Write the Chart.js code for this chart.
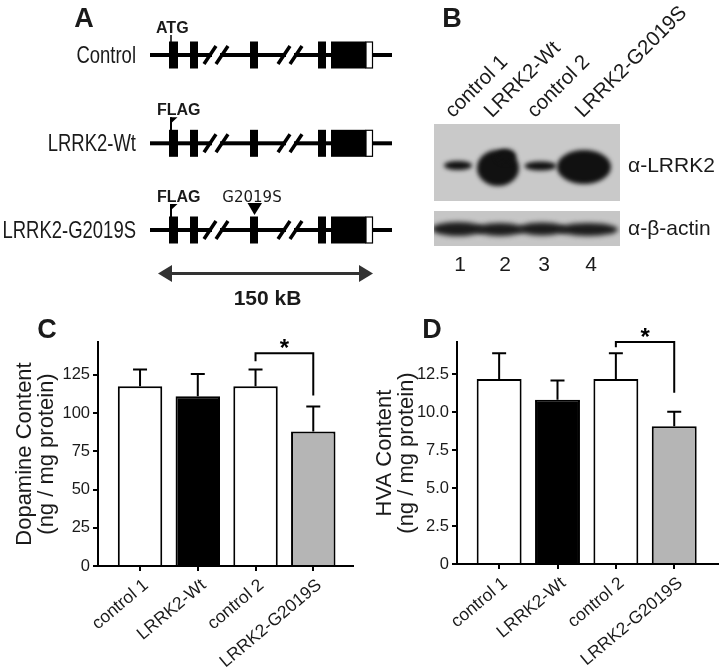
<!DOCTYPE html>
<html>
<head>
<meta charset="utf-8">
<script src="https://cdn.jsdelivr.net/npm/chart.js@4"></script>
<style>
  body { margin: 0; background: #fff; }
  #wrap { position: relative; width: 720px; height: 669px; }
  canvas { position: absolute; }
  #art { left: 0; top: 0; }
  #chartC { left: 0; top: 310px; }
  #chartD { left: 360px; top: 310px; }
</style>
</head>
<body>
<div id="wrap">
  <canvas id="art" width="720" height="669"></canvas>
  <canvas id="chartC" width="360" height="359"></canvas>
  <canvas id="chartD" width="360" height="359"></canvas>
</div>
<script>
// Data
const groups = ['control 1', 'LRRK2-Wt', 'control 2', 'LRRK2-G2019S'];
const dopamine = [117.5, 111, 117.5, 88];
const dopamineErr = [11, 14.5, 11, 16.3];
const hva = [12.2, 10.83, 12.2, 9.08];
const hvaErr = [1.7, 1.27, 1.7, 0.96];
const dopamineTicks = [0, 25, 50, 75, 100, 125];
const hvaTicks = [0, 2.5, 5, 7.5, 10, 12.5];
const barColors = ['#ffffff', '#000000', '#ffffff', '#b5b5b5'];
const geneRows = ['Control', 'LRRK2-Wt', 'LRRK2-G2019S'];
const blotLanes = ['control 1', 'LRRK2-Wt', 'control 2', 'LRRK2-G2019S'];

const FONT = 'Liberation Sans, Arial, Helvetica, sans-serif';
const INK = '#1a1a1a';


// Panels A and B (schematic + blot), plain canvas
const art = document.getElementById('art').getContext('2d');
art.fillStyle = INK;
art.textBaseline = 'alphabetic';

function label(str, x, y, size, weight, align) {
  art.font = (weight || 'normal') + ' ' + size + 'px ' + FONT;
  art.textAlign = align || 'left';
  art.fillText(str, x, y);
}

// panel letters
label('A', 84, 27, 27, 'bold', 'center');
label('B', 452, 27, 27, 'bold', 'center');
label('C', 47, 338, 27, 'bold', 'center');
label('D', 432, 338, 27, 'bold', 'center');

// gene schematic
const rowY = [55, 143.3, 230];
const exons = [[169, 9], [190, 8], [250, 8], [318, 8], [331, 35]];
geneRows.forEach((name, r) => {
  const y = rowY[r];
  art.save();
  art.translate(136, y + 8);
  art.scale(0.77, 1);
  label(name, 0, 0, 24, 'normal', 'right');
  art.restore();

  art.fillStyle = '#000';
  art.fillRect(150, y - 2, 242, 4);
  exons.forEach(([x, w]) => art.fillRect(x, y - 13.5, w, 27));
  art.fillStyle = '#fff';
  art.fillRect(366, y - 13.5, 7, 27);
  art.strokeStyle = '#000';
  art.lineWidth = 1.2;
  art.strokeRect(366, y - 13, 6.5, 26);

  // breaks
  [204, 278].forEach(x => {
    art.fillStyle = '#fff';
    art.fillRect(x + 8, y - 3, 8, 6);
    art.strokeStyle = '#000';
    art.lineWidth = 3.5;
    art.beginPath();
    art.moveTo(x, y + 9); art.lineTo(x + 12, y - 9);
    art.moveTo(x + 12, y + 9); art.lineTo(x + 24, y - 9);
    art.stroke();
  });
  art.fillStyle = INK;
});

// ATG
label('ATG', 156, 33, 16, 'bold');
art.strokeStyle = '#000'; art.lineWidth = 1.5;
art.beginPath(); art.moveTo(171, 35); art.lineTo(171, 42); art.stroke();

// FLAG tags
[1, 2].forEach(r => {
  const y = rowY[r];
  label('FLAG', 157, y - 28, 16, 'bold');
  art.fillStyle = '#000';
  art.beginPath();
  art.moveTo(170, y - 26); art.lineTo(177.5, y - 26); art.lineTo(170, y - 19);
  art.closePath(); art.fill();
  art.fillRect(170, y - 26, 2, 13);
  art.fillStyle = INK;
});

// G2019S mutation
art.font = '15px DejaVu Sans, sans-serif';
art.textAlign = 'center';
art.fillText('G2019S', 252, 202);
art.fillStyle = '#000';
art.beginPath();
art.moveTo(247.5, 203); art.lineTo(262, 203); art.lineTo(254.5, 215);
art.closePath(); art.fill();

// 150 kB arrow
art.fillStyle = '#333'; art.strokeStyle = '#333'; art.lineWidth = 3;
art.beginPath(); art.moveTo(168, 273.5); art.lineTo(363, 273.5); art.stroke();
art.beginPath();
art.moveTo(158, 273.5); art.lineTo(172, 265); art.lineTo(172, 282); art.closePath(); art.fill();
art.beginPath();
art.moveTo(373, 273.5); art.lineTo(359, 265); art.lineTo(359, 282); art.closePath(); art.fill();
art.fillStyle = INK;
label('150 kB', 267.5, 305, 21, 'bold', 'center');

// western blot
function blob(x, y, rx, ry) {
  art.beginPath();
  art.ellipse(x, y, rx, ry, 0, 0, Math.PI * 2);
  art.fill();
}
art.fillStyle = '#c9c9c9';
art.fillRect(434, 124, 186, 77);
art.fillStyle = '#c6c6c6';
art.fillRect(434, 211, 186, 35);

art.save();
art.beginPath(); art.rect(434, 124, 186, 77); art.clip();
art.filter = 'blur(2px)';
art.fillStyle = '#111';
blob(458, 165.5, 14, 4.5);
blob(540.5, 166, 16, 4.5);
blob(498, 168, 21, 18);
blob(506, 156, 10, 7);
blob(584, 167, 27, 17);
art.restore();

art.save();
art.beginPath(); art.rect(434, 211, 186, 35); art.clip();
art.filter = 'blur(2.5px)';
art.fillStyle = '#1c1c1c';
blob(458, 229, 26, 7);
blob(500, 229.5, 24, 6.5);
blob(542, 229, 24, 6.5);
blob(588, 229.5, 30, 6.5);
art.restore();

art.fillStyle = INK;
art.textBaseline = 'middle';
label('\u03b1-LRRK2', 628, 166, 21);
label('\u03b1-\u03b2-actin', 628, 229, 21);
const laneX = [460, 505, 544, 591];
laneX.forEach((x, i) => label(String(i + 1), x, 265, 21, 'normal', 'center'));
art.textBaseline = 'alphabetic';

const laneStart = [453, 492, 535, 583];
blotLanes.forEach((name, i) => {
  art.save();
  art.translate(laneStart[i], 118.5);
  art.rotate(-45 * Math.PI / 180);
  label(name, 0, 0, 20.5);
  art.restore();
});


// Bar charts C and D
function extrasPlugin(values, errors, bracket) {
  return {
    id: 'extras',
    afterDatasetsDraw(chart) {
      const { ctx, scales: { x, y } } = chart;
      ctx.save();
      ctx.strokeStyle = '#000';
      ctx.lineWidth = 2;
      // error bars (upper only)
      values.forEach((v, i) => {
        const px = x.getPixelForValue(i + 1);
        const top = y.getPixelForValue(v + errors[i]);
        ctx.beginPath();
        ctx.moveTo(px, y.getPixelForValue(v));
        ctx.lineTo(px, top);
        ctx.moveTo(px - 7, top);
        ctx.lineTo(px + 7, top);
        ctx.stroke();
      });
      // significance bracket
      const x1 = x.getPixelForValue(bracket.from);
      const x2 = x.getPixelForValue(bracket.to);
      const yb = y.getPixelForValue(bracket.y);
      ctx.beginPath();
      ctx.moveTo(x1, y.getPixelForValue(bracket.leftEnd));
      ctx.lineTo(x1, yb);
      ctx.lineTo(x2, yb);
      ctx.lineTo(x2, y.getPixelForValue(bracket.rightEnd));
      ctx.stroke();
      ctx.fillStyle = '#000';
      ctx.font = 'bold 24px ' + FONT;
      ctx.textAlign = 'center';
      ctx.textBaseline = 'alphabetic';
      ctx.fillText('*', (x1 + x2) / 2, yb + 2.5);
      ctx.restore();
    }
  };
}

function makeChart(id, values, errors, yTicks, yMax, fmt, title, bracket, xMin, xMax, pad) {
  new Chart(document.getElementById(id), {
    type: 'bar',
    data: {
      datasets: [{
        data: values.map((v, i) => ({ x: i + 1, y: v })),
        backgroundColor: barColors,
        borderColor: '#000',
        borderWidth: 2,
        barPercentage: 0.77,
        categoryPercentage: 1
      }]
    },
    options: {
      responsive: false,
      animation: false,
      layout: { padding: { top: pad.top, right: pad.right, left: 0, bottom: 0 } },
      plugins: { legend: { display: false }, tooltip: { enabled: false } },
      scales: {
        x: {
          type: 'linear',
          min: xMin,
          max: xMax,
          offset: false,
          afterBuildTicks: s => { s.ticks = groups.map((g, i) => ({ value: i + 1 })); },
          afterFit: s => { s.height = pad.xHeight; },
          grid: { offset: false, drawOnChartArea: false, drawTicks: true, tickLength: 5, color: '#000', lineWidth: 2 },
          border: { display: true, color: '#000', width: 2 },
          ticks: {
            autoSkip: false,
            minRotation: 40,
            maxRotation: 40,
            padding: 4,
            labelOffset: 6,
            color: INK,
            font: { family: FONT, size: 17.5 },
            callback: (v, i) => groups[i]
          }
        },
        y: {
          min: 0,
          max: yMax,
          afterBuildTicks: s => { s.ticks = yTicks.map(v => ({ value: v })); },
          afterFit: s => { s.width = pad.yWidth; },
          grid: { drawOnChartArea: false, drawTicks: true, tickLength: 5, color: '#000', lineWidth: 2 },
          border: { display: true, color: '#000', width: 2 },
          ticks: {
            padding: 3,
            color: INK,
            font: { family: FONT, size: 16.5 },
            callback: fmt
          },
          title: {
            display: true,
            text: title,
            color: INK,
            font: { family: FONT, size: 22, lineHeight: 1.0 },
            padding: { top: 14, bottom: 0 }
          }
        }
      }
    },
    plugins: [extrasPlugin(values, errors, bracket)]
  });
}

makeChart('chartC', dopamine, dopamineErr, dopamineTicks, 146.5,
  v => String(v),
  ['Dopamine Content', '(ng / mg protein)'],
  { from: 3, to: 4, y: 139.1, leftEnd: 133.9, rightEnd: 111.5 },
  0.272, 4.688,
  { top: 32, right: 7, yWidth: 98, xHeight: 103 });

makeChart('chartD', hva, hvaErr, hvaTicks, 14.64,
  v => (v === 0 ? '0' : v.toFixed(1)),
  ['HVA Content', '(ng / mg protein)'],
  { from: 3, to: 4, y: 14.64, leftEnd: 14.3, rightEnd: 11.29 },
  0.278, 4.75,
  { top: 32, right: 2, yWidth: 97, xHeight: 105 });
</script>
</body>
</html>
